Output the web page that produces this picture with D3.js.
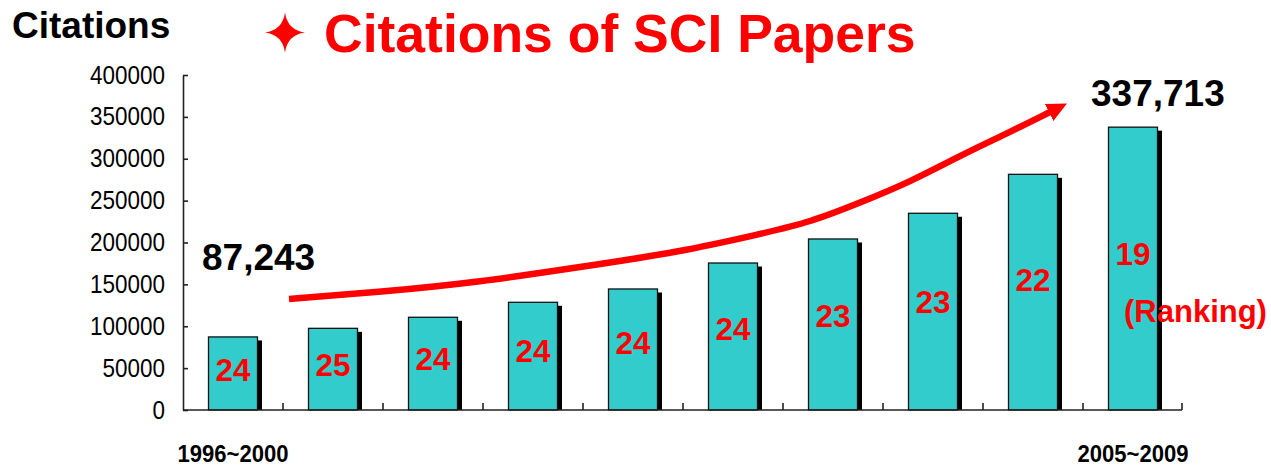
<!DOCTYPE html>
<html>
<head>
<meta charset="utf-8">
<script src="https://cdn.jsdelivr.net/npm/d3@7"></script>
<style>
  html, body { margin: 0; padding: 0; background: #fff; }
  svg { display: block; font-family: "Liberation Sans", Arial, sans-serif; }
</style>
</head>
<body>
<svg id="chart" width="1271" height="466"></svg>
<script>
// ---- data ----
const categories = ["1996~2000","1997~2001","1998~2002","1999~2003","2000~2004",
                    "2001~2005","2002~2006","2003~2007","2004~2008","2005~2009"];
const citations = [87243, 97500, 110700, 128600, 144500, 175500, 204200, 234900, 281400, 337713];
const rankings = [24, 25, 24, 24, 24, 24, 23, 23, 22, 19];
const yTicks = [0, 50000, 100000, 150000, 200000, 250000, 300000, 350000, 400000];
const shownXLabels = ["1996~2000", "2005~2009"];
const valueCallouts = ["87,243", "337,713"];
// trend arrow path in data space (category index, citations)
const trendIndex = [0.56, 1.47, 2.47, 3.47, 4.47, 5.27, 5.77, 6.27, 6.77, 7.27, 7.77, 8.17];
const trendValue = [132500, 140900, 152800, 170700, 188700, 210100, 224100, 247500, 272200, 303600, 331900, 355800];

// ---- layout ----
const svg = d3.select("#chart");
const x0 = 183, x1 = 1183, yBottom = 410, yTop = 75;

const x = d3.scaleBand().domain(categories).range([x0, x1])
  .paddingInner(0.51).paddingOuter(0.255);
const xIdx = d3.scaleLinear().domain([-0.5, categories.length - 0.5]).range([x0, x1]);
const y = d3.scaleLinear().domain([0, 400000]).range([yBottom, yTop]);

const red = "#FF0000", teal = "#33CCCC";

// ---- bars (shadow + bar) ----
const bars = svg.append("g");
bars.selectAll("rect.shadow").data(citations).join("rect")
  .attr("class", "shadow")
  .attr("x", (d, i) => x(categories[i]) + 4.5)
  .attr("y", d => y(d) + 3.5)
  .attr("width", x.bandwidth())
  .attr("height", d => yBottom - y(d) - 3.5)
  .attr("fill", "#000");
bars.selectAll("rect.bar").data(citations).join("rect")
  .attr("class", "bar")
  .attr("x", (d, i) => x(categories[i]))
  .attr("y", d => y(d))
  .attr("width", x.bandwidth())
  .attr("height", d => yBottom - y(d))
  .attr("fill", teal)
  .attr("stroke", "#111")
  .attr("stroke-width", 1.3);

// ---- ranking labels ----
svg.append("g").selectAll("text").data(rankings).join("text")
  .attr("x", (d, i) => x(categories[i]) + x.bandwidth() / 2)
  .attr("y", (d, i) => y(citations[i] * 0.55) + 11)
  .attr("text-anchor", "middle")
  .attr("font-size", 31.5).attr("font-weight", "bold").attr("fill", red)
  .text(d => d);
svg.append("text")
  .attr("x", 1124).attr("y", 322)
  .attr("font-size", 31).attr("font-weight", "bold").attr("fill", red)
  .text("(Ranking)");

// ---- y axis ----
const yAxis = d3.axisLeft(y).tickValues(yTicks).tickSizeInner(-5).tickSizeOuter(0)
  .tickFormat(d3.format("d")).tickPadding(18);
const gy = svg.append("g").attr("transform", `translate(${x0},0)`).call(yAxis);
gy.select(".domain").attr("stroke", "#222").attr("stroke-width", 1.6);
gy.selectAll(".tick line").attr("stroke", "#222").attr("stroke-width", 1.6);
gy.selectAll(".tick text")
  .attr("font-family", "'Liberation Sans', Arial, sans-serif")
  .attr("font-size", 25).attr("fill", "#000")
  .attr("textLength", function() { return this.textContent.length * 12.5; })
  .attr("lengthAdjust", "spacingAndGlyphs");

// ---- x axis ----
const boundaries = d3.range(1, categories.length + 1).map(k => k - 0.5);
const gx = svg.append("g");
gx.append("line").attr("x1", x0).attr("x2", x1 - 1).attr("y1", yBottom).attr("y2", yBottom)
  .attr("stroke", "#222").attr("stroke-width", 1.6);
gx.selectAll("line.tick").data(boundaries).join("line")
  .attr("class", "tick")
  .attr("x1", d => Math.min(xIdx(d), x1 - 1)).attr("x2", d => Math.min(xIdx(d), x1 - 1))
  .attr("y1", yBottom).attr("y2", yBottom - 7)
  .attr("stroke", "#222").attr("stroke-width", 1.6);
gx.selectAll("text").data(shownXLabels).join("text")
  .attr("x", d => x(d) + x.bandwidth() / 2)
  .attr("y", 462)
  .attr("text-anchor", "middle")
  .attr("font-size", 24).attr("font-weight", "bold").attr("fill", "#000")
  .attr("textLength", 111).attr("lengthAdjust", "spacingAndGlyphs")
  .text(d => d);

// ---- trend arrow ----
const defs = svg.append("defs");
defs.append("marker")
  .attr("id", "arrowhead")
  .attr("markerUnits", "userSpaceOnUse")
  .attr("viewBox", "0 -10 20 20")
  .attr("refX", 1).attr("refY", 0)
  .attr("markerWidth", 20).attr("markerHeight", 20)
  .attr("orient", "auto")
  .append("path").attr("d", "M0,-9.5L20,0L0,9.5Z").attr("fill", red);

const trendPts = trendIndex.map((d, i) => [xIdx(d), y(trendValue[i])]);
svg.append("path")
  .attr("d", d3.line().curve(d3.curveBasis)(trendPts))
  .attr("fill", "none").attr("stroke", red).attr("stroke-width", 6.5)
  .attr("marker-end", "url(#arrowhead)");

// ---- callouts ----
svg.append("text").attr("x", 202).attr("y", 270)
  .attr("font-size", 37).attr("font-weight", "bold").attr("fill", "#000")
  .text(valueCallouts[0]);
svg.append("text").attr("x", 1091).attr("y", 106)
  .attr("font-size", 37).attr("font-weight", "bold").attr("fill", "#000")
  .text(valueCallouts[1]);

// ---- titles ----
svg.append("text").attr("x", 12).attr("y", 38)
  .attr("font-size", 37).attr("font-weight", "bold").attr("fill", "#000")
  .text("Citations");

const cx = 285, cy = 32.5, r = 20, c = 0.12 * r;
const star = d3.path();
star.moveTo(cx, cy - r);
star.quadraticCurveTo(cx + c, cy - c, cx + r, cy);
star.quadraticCurveTo(cx + c, cy + c, cx, cy + r);
star.quadraticCurveTo(cx - c, cy + c, cx - r, cy);
star.quadraticCurveTo(cx - c, cy - c, cx, cy - r);
star.closePath();
svg.append("path").attr("d", star.toString()).attr("fill", red);

svg.append("text").attr("x", 324).attr("y", 51.5)
  .attr("font-size", 53.5).attr("font-weight", "bold").attr("fill", red)
  .text("Citations of SCI Papers");
</script>
</body>
</html>
